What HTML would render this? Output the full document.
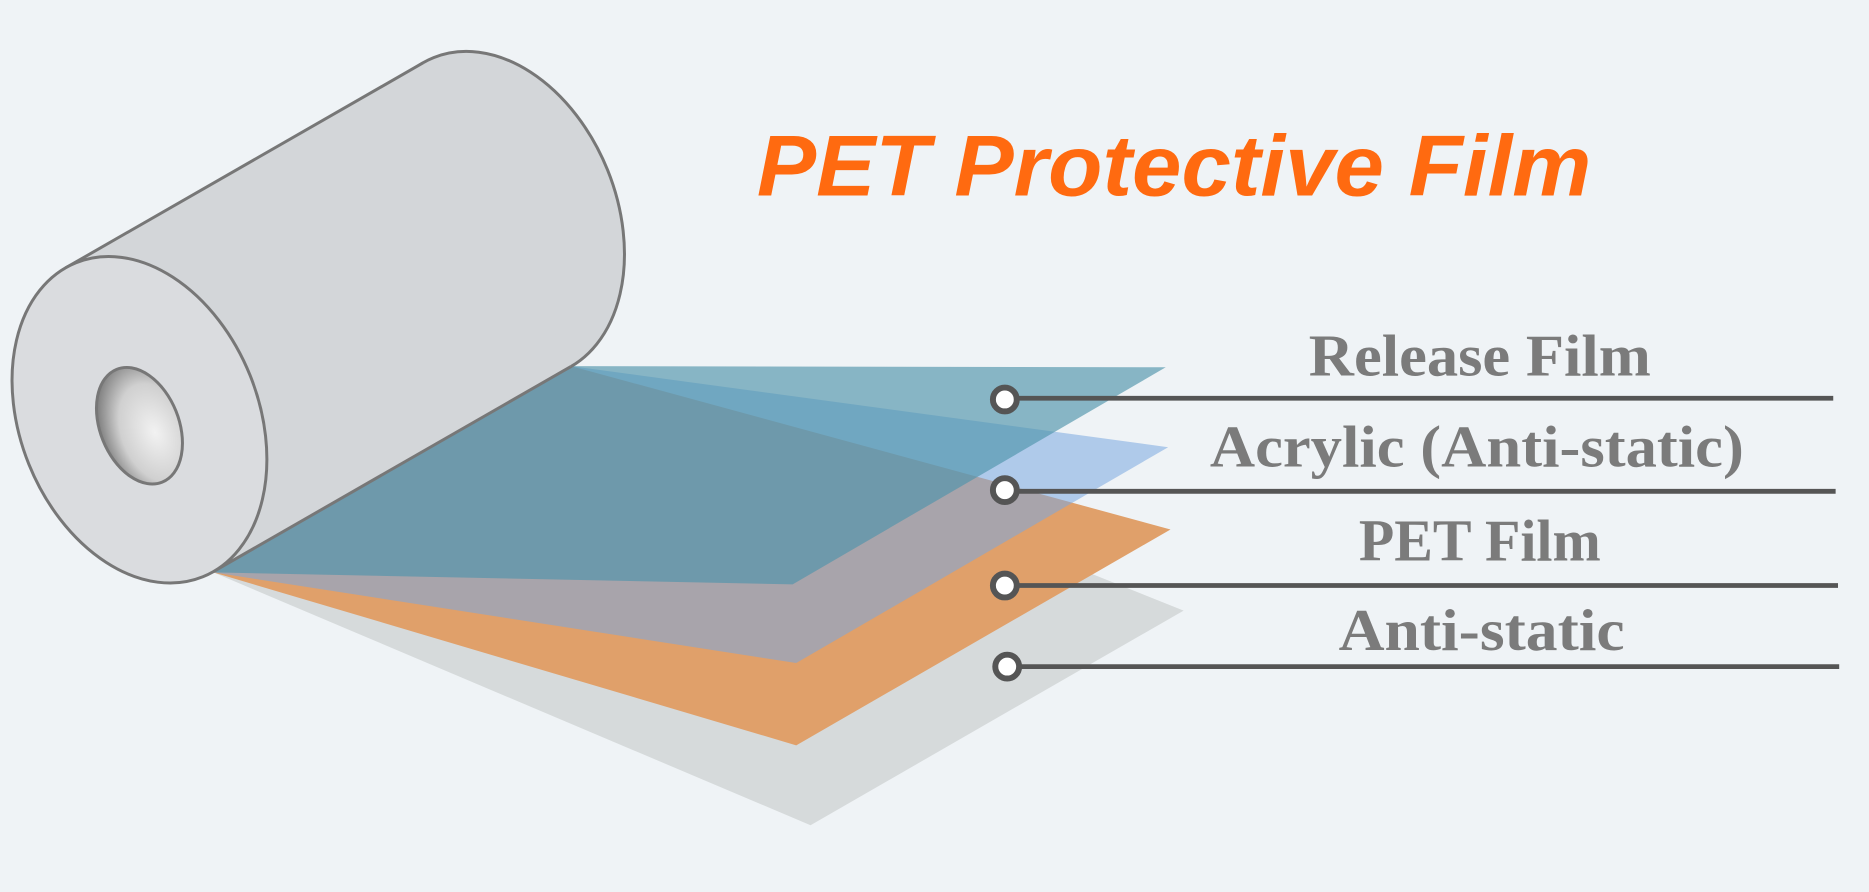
<!DOCTYPE html>
<html><head><meta charset="utf-8"><style>
html,body{margin:0;padding:0;background:#eff3f6;}
svg{display:block;}
</style></head><body>
<svg width="1869" height="892" viewBox="0 0 1568 748" preserveAspectRatio="none" xmlns="http://www.w3.org/2000/svg">
<defs>
<radialGradient id="hole" cx="0.65" cy="0.6" r="0.7">
<stop offset="0" stop-color="#f2f2f2"/><stop offset="0.6" stop-color="#d0d0d0"/><stop offset="1" stop-color="#777"/>
</radialGradient>
</defs>
<rect width="1568" height="748" fill="#eff3f6"/>
<!-- sheets -->
<polygon points="179,480 680,692 993,512 479,307" fill="#d6dadb"/>
<polygon points="179,480 668,625 982,444 479,307" fill="#e0a06a"/>
<polygon points="179,480 668,556 980,375 479,307" fill="#7aa8e0" fill-opacity="0.55"/>
<polygon points="179,480 665,490 978,308 479,307" fill="#4f93ab" fill-opacity="0.65"/>
<!-- roll back ellipse -->
<ellipse cx="117" cy="352" rx="100" ry="142" transform="translate(300 -172) rotate(-22 117 352)" fill="#d3d6d9" stroke="#777" stroke-width="2.5"/>
<polygon points="55.1,224.6 355.1,52.6 478.9,307.4 178.9,479.4" fill="#d3d6d9"/>
<line x1="55.1" y1="224.6" x2="355.1" y2="52.6" stroke="#777" stroke-width="2.5"/>
<line x1="178.9" y1="479.4" x2="478.9" y2="307.4" stroke="#777" stroke-width="2.5"/>
<!-- front -->
<ellipse cx="117" cy="352" rx="100" ry="142" transform="rotate(-22 117 352)" fill="#dadcdf" stroke="#777" stroke-width="2.5"/>
<ellipse cx="117" cy="357" rx="33" ry="51" transform="rotate(-22 117 357)" fill="url(#hole)" stroke="#777" stroke-width="2.5"/>
<!-- title -->
<text x="635" y="164" font-family="Liberation Sans, sans-serif" font-weight="bold" font-style="italic" font-size="72" fill="#ff6a10" textLength="700" lengthAdjust="spacingAndGlyphs">PET Protective Film</text>
<!-- labels -->
<g font-family="Liberation Serif, serif" font-weight="bold" font-size="50" fill="#7b7b7b">
<text x="1098" y="315" textLength="287" lengthAdjust="spacingAndGlyphs">Release Film</text>
<text x="1015" y="391" textLength="448" lengthAdjust="spacingAndGlyphs">Acrylic (Anti-static)</text>
<text x="1140" y="470" textLength="203" lengthAdjust="spacingAndGlyphs">PET Film</text>
<text x="1123" y="545" textLength="240" lengthAdjust="spacingAndGlyphs">Anti-static</text>
</g>
<g stroke="#555" stroke-width="4">
<line x1="845" y1="334" x2="1538" y2="334"/>
<line x1="845" y1="412" x2="1540" y2="412"/>
<line x1="845" y1="491" x2="1542" y2="491"/>
<line x1="845" y1="559" x2="1543" y2="559"/>
</g>
<g fill="#fff" stroke="#555" stroke-width="5">
<circle cx="843" cy="335" r="10"/>
<circle cx="843" cy="411" r="10"/>
<circle cx="843" cy="491" r="10"/>
<circle cx="845" cy="559" r="10"/>
</g>
</svg>
</body></html>
